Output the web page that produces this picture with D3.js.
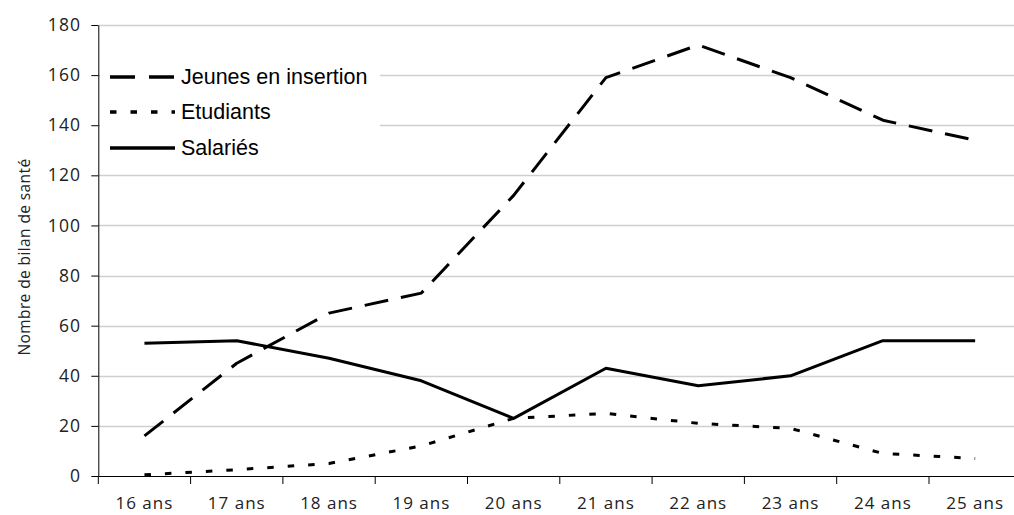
<!DOCTYPE html>
<html lang="fr">
<head>
<meta charset="utf-8">
<script src="https://cdn.jsdelivr.net/npm/d3@7"></script>
<style>
  html, body { margin: 0; padding: 0; background: #fff; }
  svg { display: block; overflow: hidden; }
</style>
</head>
<body>
<div id="chart"></div>
<script>
// Catégories d'âge et nombre de bilans de santé par public
const categories = ["16 ans", "17 ans", "18 ans", "19 ans", "20 ans", "21 ans", "22 ans", "23 ans", "24 ans", "25 ans"];
const jeunesInsertion = [16, 45, 65, 73, 112, 159, 172, 159, 142, 134];
const etudiants = [0.5, 2.5, 5, 12, 23, 25, 21, 19, 9, 7];
const salaries = [53, 54, 47, 38, 23, 43, 36, 40, 54, 54];
const yTicks = [0, 20, 40, 60, 80, 100, 120, 140, 160, 180];
const seriesNames = ["Jeunes en insertion", "Etudiants", "Salariés"];

const width = 1014, height = 515;
const plot = { left: 98.3, top: 25, bottom: 476, right: 98.3 + 92.3 * categories.length };
const tickFont = "'Open Sans', sans-serif";

const svg = d3.select("#chart").append("svg")
  .attr("width", width).attr("height", height);

const x = d3.scaleBand().domain(categories).range([plot.left, plot.right]);
const y = d3.scaleLinear().domain([0, 180]).range([plot.bottom, plot.top]);
const cx = c => x(c) + x.bandwidth() / 2;

// Grille horizontale
svg.append("g").selectAll("line")
  .data(yTicks.filter(t => t > 0))
  .join("line")
  .attr("x1", plot.left).attr("x2", plot.right)
  .attr("y1", d => Math.round(y(d)) + 0.5).attr("y2", d => Math.round(y(d)) + 0.5)
  .attr("stroke", "#cfcfcf").attr("stroke-width", 1.3);

// Axe des ordonnées
const yAxis = svg.append("g")
  .attr("transform", `translate(${plot.left},0)`)
  .call(d3.axisLeft(y).tickValues(yTicks).tickSize(7).tickPadding(10).tickSizeOuter(0));
yAxis.select(".domain").attr("stroke", "#000");
yAxis.selectAll(".tick line").attr("stroke", "#000");
yAxis.selectAll("text")
  .attr("font-family", tickFont).attr("font-size", 17.5)
  .attr("letter-spacing", 1.2).attr("fill", "#222");

// Axe des abscisses, graduations entre les catégories
const xAxisG = svg.append("g").attr("transform", `translate(0,${plot.bottom})`);
xAxisG.append("line")
  .attr("x1", plot.left).attr("x2", plot.right)
  .attr("y1", 0.5).attr("y2", 0.5).attr("stroke", "#000");
xAxisG.selectAll("line.tk")
  .data(d3.range(categories.length + 1))
  .join("line").attr("class", "tk")
  .attr("x1", i => plot.left + i * x.step()).attr("x2", i => plot.left + i * x.step())
  .attr("y1", 0).attr("y2", 8).attr("stroke", "#000");
xAxisG.selectAll("text")
  .data(categories)
  .join("text")
  .attr("x", d => cx(d)).attr("y", 33)
  .attr("text-anchor", "middle")
  .attr("font-family", tickFont).attr("font-size", 17)
  .attr("letter-spacing", 1).attr("fill", "#222")
  .text(d => d);

// Titre de l'axe vertical
svg.append("text")
  .attr("transform", `translate(30,257) rotate(-90)`)
  .attr("text-anchor", "middle")
  .attr("font-family", tickFont).attr("font-size", 15.5)
  .attr("letter-spacing", 0.4).attr("fill", "#222")
  .text("Nombre de bilan de santé");

// Courbes
const line = d3.line().x((d, i) => cx(categories[i])).y(d => y(d));
const styles = [
  { data: jeunesInsertion, dash: "24,13" },
  { data: etudiants, dash: "6.5,14" },
  { data: salaries, dash: null }
];
styles.forEach(s => {
  svg.append("path")
    .datum(s.data)
    .attr("d", line)
    .attr("fill", "none")
    .attr("stroke", "#000")
    .attr("stroke-width", 3)
    .attr("stroke-linejoin", "round")
    .attr("stroke-dasharray", s.dash);
});

// Légende
const legend = svg.append("g");
legend.append("rect")
  .attr("x", 100).attr("y", 58).attr("width", 280).attr("height", 108)
  .attr("fill", "#fff");
const rowsY = [77, 112, 148];
seriesNames.forEach((name, i) => {
  legend.append("line")
    .attr("x1", 110).attr("x2", 175)
    .attr("y1", rowsY[i]).attr("y2", rowsY[i])
    .attr("stroke", "#000").attr("stroke-width", 3.5)
    .attr("stroke-dasharray", i === 0 ? "25,14" : i === 1 ? "6.5,14" : null);
  legend.append("text")
    .attr("x", 181).attr("y", rowsY[i] + 7)
    .attr("font-family", "'Liberation Sans', Arial, sans-serif")
    .attr("font-size", 21.5).attr("fill", "#000")
    .text(name);
});
</script>
</body>
</html>
